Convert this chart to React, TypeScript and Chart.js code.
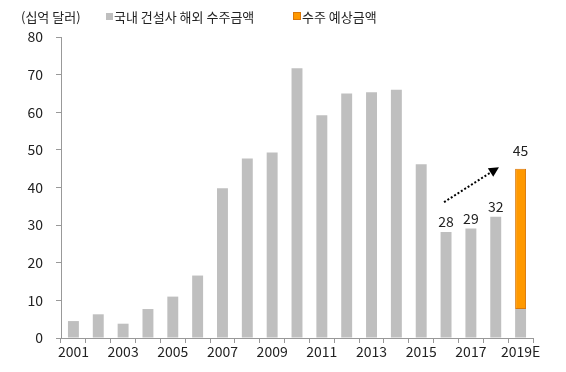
import React, { useEffect, useRef } from "react";
import { Chart, registerables } from "chart.js";
Chart.register(...registerables);

const categories = ["2001","2002","2003","2004","2005","2006","2007","2008","2009","2010","2011","2012","2013","2014","2015","2016","2017","2018","2019E"];
const tickLabels = ["2001","","2003","","2005","","2007","","2009","","2011","","2013","","2015","","2017","","2019E"];
const orderValues = [4.5, 6.3, 3.8, 7.7, 11.0, 16.6, 39.8, 47.7, 49.3, 71.7, 59.2, 65.0, 65.3, 66.0, 46.2, 28.2, 29.1, 32.2, 7.7];
const forecastRange: [number, number] = [7.7, 45.0];
const forecastIndex = 18;
const valueLabels = ["","","","","","","","","","","","","","","","28","29","32","45"];
// arrow annotation in data units: [categoryIndex, value]
const arrowStart = [14.92, 36.1];
const arrowEnd = [17.13, 45.4];

const FONT = '"Noto Sans CJK KR", "Noto Sans", sans-serif';

export default function App() {
  const ref = useRef<HTMLCanvasElement>(null);
  useEffect(() => {
    const labelsPlugin = {
      id: "extras",
      afterDatasetsDraw(chart: any) {
        const ctx = chart.ctx;
        const g = chart.getDatasetMeta(0);
        const o = chart.getDatasetMeta(1);
        ctx.save();
        ctx.font = `14px ${FONT}`;
        ctx.fillStyle = "#222";
        ctx.textAlign = "center";
        ctx.textBaseline = "bottom";
        valueLabels.forEach((t, i) => {
          if (!t) return;
          const isF = i === forecastIndex;
          const el = isF ? o.data[i] : g.data[i];
          ctx.fillText(t, el.x, el.y - (isF ? 11 : 3));
        });
        const xs = chart.scales.x, ys = chart.scales.y;
        const x1 = xs.getPixelForValue(arrowStart[0]);
        const y1 = ys.getPixelForValue(arrowStart[1]);
        const x2 = xs.getPixelForValue(arrowEnd[0]);
        const y2 = ys.getPixelForValue(arrowEnd[1]);
        const ang = Math.atan2(y2 - y1, x2 - x1);
        const head = 10;
        const bx = x2 - head * Math.cos(ang);
        const by = y2 - head * Math.sin(ang);
        ctx.strokeStyle = "#000";
        ctx.lineWidth = 2;
        ctx.setLineDash([2, 2]);
        ctx.beginPath();
        ctx.moveTo(x1, y1);
        ctx.lineTo(bx, by);
        ctx.stroke();
        ctx.setLineDash([]);
        ctx.fillStyle = "#000";
        ctx.beginPath();
        ctx.moveTo(x2, y2);
        ctx.lineTo(bx + 5 * Math.sin(ang), by - 5 * Math.cos(ang));
        ctx.lineTo(bx - 5 * Math.sin(ang), by + 5 * Math.cos(ang));
        ctx.closePath();
        ctx.fill();
        ctx.restore();
      },
    };
    const chart = new Chart(ref.current!, {
      type: "bar",
      data: {
        labels: categories,
        datasets: [
          {
            label: "국내 건설사 해외 수주금액",
            data: orderValues,
            backgroundColor: "#BFBFBF",
            grouped: false,
            barPercentage: 0.44,
            categoryPercentage: 1,
          } as any,
          {
            label: "수주 예상금액",
            data: categories.map((_, i) => (i === forecastIndex ? forecastRange : null)),
            backgroundColor: "#FF9900",
            borderColor: "#D9770A",
            borderWidth: 1,
            borderSkipped: false,
            grouped: false,
            barPercentage: 0.44,
            categoryPercentage: 1,
          } as any,
        ],
      },
      options: {
        animation: false,
        responsive: false,
        maintainAspectRatio: false,
        layout: { padding: { top: 37, right: 33, left: 0, bottom: 0 } },
        plugins: { legend: { display: false }, tooltip: { enabled: false } },
        scales: {
          x: {
            offset: true,
            grid: { display: true, offset: true, drawOnChartArea: false, drawTicks: true, tickLength: 5, color: "#999" },
            border: { color: "#999" },
            ticks: {
              autoSkip: false,
              maxRotation: 0,
              padding: 0,
              color: "#222",
              font: { family: FONT, size: 14 },
              callback: (_v: any, i: number) => tickLabels[i],
            },
            afterFit: (s: any) => { s.height = 34; },
          },
          y: {
            min: 0,
            max: 80,
            grid: { drawOnChartArea: false, drawTicks: true, tickLength: 5, color: "#999" },
            border: { color: "#999" },
            ticks: { stepSize: 10, padding: 13, color: "#222", font: { family: FONT, size: 14 } },
            afterFit: (s: any) => { s.width = 61; },
          },
        },
      },
      plugins: [labelsPlugin],
    });
    return () => chart.destroy();
  }, []);

  const txt: React.CSSProperties = { position: "absolute", top: 8, fontFamily: FONT, fontSize: 13, color: "#222", lineHeight: "18px", whiteSpace: "nowrap" };
  return (
    <div style={{ position: "fixed", left: 0, top: 0, width: 566, height: 372, background: "#fff" }}>
      <canvas ref={ref} width={566} height={372} style={{ position: "absolute", left: 0, top: 0 }} />
      <span style={{ ...txt, left: 21 }}>(십억 달러)</span>
      <span style={{ position: "absolute", left: 106, top: 13, width: 7, height: 7, background: "#BFBFBF" }} />
      <span style={{ ...txt, left: 114 }}>국내 건설사 해외 수주금액</span>
      <span style={{ position: "absolute", left: 293, top: 12, width: 6, height: 6, background: "#FF9900", border: "1px solid #D9770A" }} />
      <span style={{ ...txt, left: 302 }}>수주 예상금액</span>
    </div>
  );
}
